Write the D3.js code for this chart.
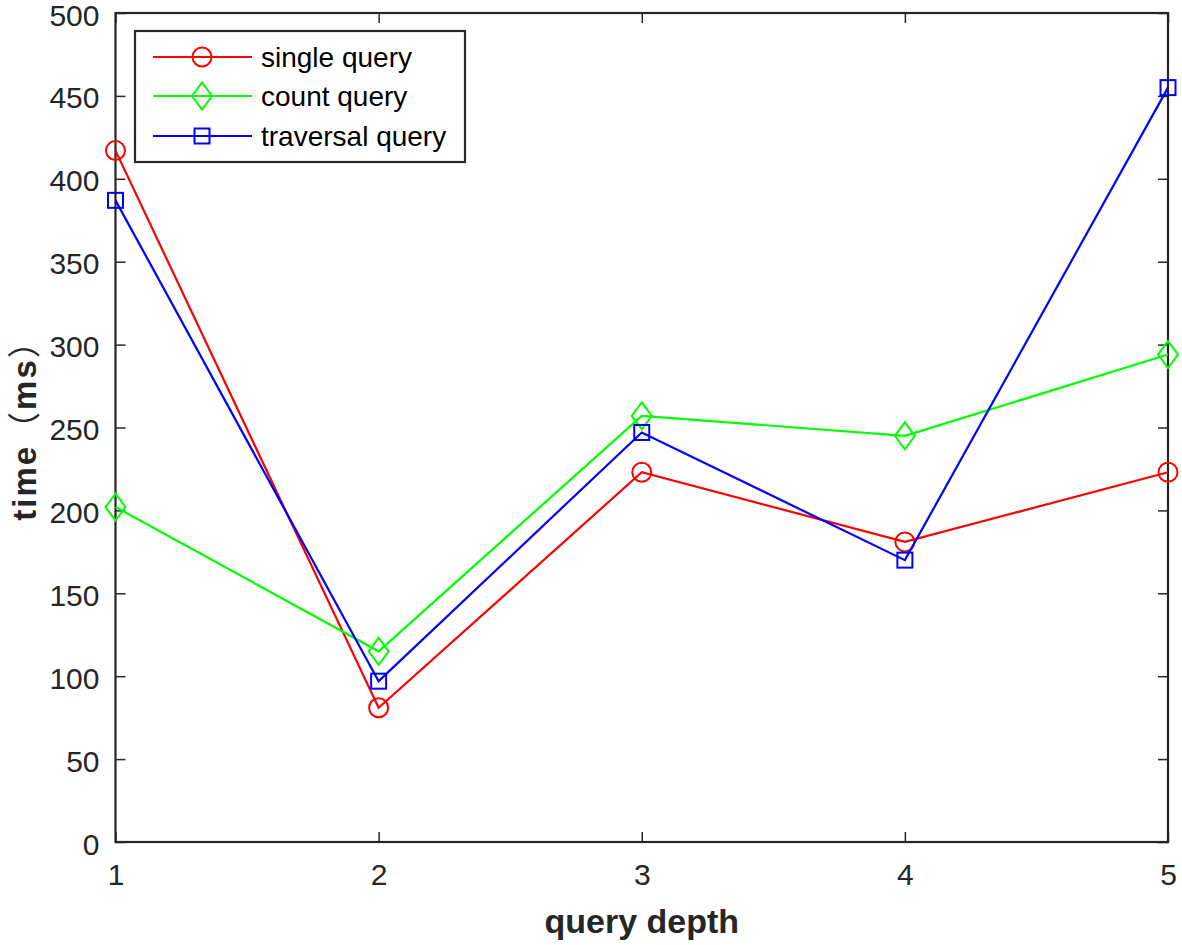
<!DOCTYPE html>
<html><head><meta charset="utf-8">
<script src="https://cdn.jsdelivr.net/npm/d3@7"></script>
<style>body{margin:0;background:#fff}svg{display:block}</style>
</head><body>
<svg id="c" width="1182" height="945"></svg>
<script>
const depths = [1, 2, 3, 4, 5];
const singleQuery = [417, 81, 223, 181, 223];
const countQuery = [202, 115, 257, 245, 294];
const traversalQuery = [387, 97, 247, 170, 455];
const yTicks = [0, 50, 100, 150, 200, 250, 300, 350, 400, 450, 500];
const seriesNames = ["single query", "count query", "traversal query"];
const xLabel = "query depth";
const yLabelParts = ["time", "（", "ms", "）"];

const series = [
  {name: seriesNames[0], values: singleQuery, color: "#ff0000", marker: "circle"},
  {name: seriesNames[1], values: countQuery, color: "#00ff00", marker: "diamond"},
  {name: seriesNames[2], values: traversalQuery, color: "#0000ff", marker: "square"}
];

const svg = d3.select("#c");
const L = 115.5, R = 1168, T = 13, B = 842;
const x = d3.scaleLinear().domain([1, 5]).range([L, R]);
const y = d3.scaleLinear().domain([0, 500]).range([B, T]);
const axisColor = "#262626";
const font = "Arial, 'Liberation Sans', sans-serif";

// ticks on all sides
const tickLen = 10;
const g = svg.append("g");
const axL = g.append("g").attr("transform", `translate(${L},0)`)
  .call(d3.axisLeft(y).tickValues(yTicks).tickSizeInner(-tickLen).tickSizeOuter(0).tickPadding(16));
const axB = g.append("g").attr("transform", `translate(0,${B})`)
  .call(d3.axisBottom(x).tickValues(depths).tickFormat(d3.format("d")).tickSizeInner(-tickLen).tickSizeOuter(0).tickPadding(22));
const axR = g.append("g").attr("transform", `translate(${R},0)`)
  .call(d3.axisRight(y).tickValues(yTicks).tickSizeInner(-tickLen).tickSizeOuter(0).tickFormat(""));
const axT = g.append("g").attr("transform", `translate(0,${T})`)
  .call(d3.axisTop(x).tickValues(depths).tickSizeInner(-tickLen).tickSizeOuter(0).tickFormat(""));
[axL, axB, axR, axT].forEach(a => {
  a.selectAll(".domain").remove();
  a.selectAll("line").attr("stroke", axisColor).attr("stroke-width", 1.5);
  a.selectAll("text").attr("fill", axisColor).style("font-family", font).style("font-size", "30px");
});
axL.selectAll(".tick text").attr("dy", "0.4em");
g.append("rect").attr("x", L).attr("y", T).attr("width", R - L).attr("height", B - T)
  .attr("fill", "none").attr("stroke", axisColor).attr("stroke-width", 2.2);

// axis labels
svg.append("text").attr("x", (L + R) / 2 - 0).attr("y", 933).attr("text-anchor", "middle")
  .attr("fill", axisColor).style("font-family", font).style("font-size", "34px").style("font-weight", "bold")
  .text(xLabel);
const yl = svg.append("text").attr("transform", `translate(36,422) rotate(-90)`).attr("text-anchor", "middle")
  .attr("fill", axisColor).style("font-family", font).style("font-size", "33px").style("font-weight", "bold")
  .style("letter-spacing", "2px");
yLabelParts.forEach(p => {
  const isParen = p === "（" || p === "）";
  yl.append("tspan").text(p)
    .style("font-family", isParen ? "'Noto Sans CJK SC', sans-serif" : font)
    .style("font-weight", isParen ? "normal" : "bold");
});

function drawMarker(sel, type, color, cx, cy) {
  if (type === "circle") {
    sel.append("circle").attr("cx", cx).attr("cy", cy).attr("r", 9.5)
      .attr("fill", "none").attr("stroke", color).attr("stroke-width", 2);
  } else if (type === "diamond") {
    const w = 10, h = 13.5;
    sel.append("path").attr("d", `M${cx},${cy - h}L${cx + w},${cy}L${cx},${cy + h}L${cx - w},${cy}Z`)
      .attr("fill", "none").attr("stroke", color).attr("stroke-width", 2);
  } else {
    const s = 7.5;
    sel.append("rect").attr("x", cx - s).attr("y", cy - s).attr("width", 2 * s).attr("height", 2 * s)
      .attr("fill", "none").attr("stroke", color).attr("stroke-width", 2);
  }
}

const line = d3.line().x((d, i) => x(depths[i])).y(d => y(d));
const plot = svg.append("g");
series.forEach(s => {
  plot.append("path").attr("d", line(s.values)).attr("fill", "none")
    .attr("stroke", s.color).attr("stroke-width", 2.2);
  s.values.forEach((v, i) => drawMarker(plot, s.marker, s.color, x(depths[i]), y(v)));
});

// legend
const lg = svg.append("g");
lg.append("rect").attr("x", 135).attr("y", 31).attr("width", 330).attr("height", 131)
  .attr("fill", "#fff").attr("stroke", axisColor).attr("stroke-width", 2.2);
const rowY = [57, 96, 136];
series.forEach((s, i) => {
  lg.append("line").attr("x1", 153).attr("x2", 252).attr("y1", rowY[i]).attr("y2", rowY[i])
    .attr("stroke", s.color).attr("stroke-width", 2.2);
  drawMarker(lg, s.marker, s.color, 202, rowY[i]);
  lg.append("text").attr("x", 261).attr("y", rowY[i]).attr("dy", "0.35em")
    .attr("fill", "#000").style("font-family", font).style("font-size", "28px")
    .text(s.name);
});
</script>
</body></html>
